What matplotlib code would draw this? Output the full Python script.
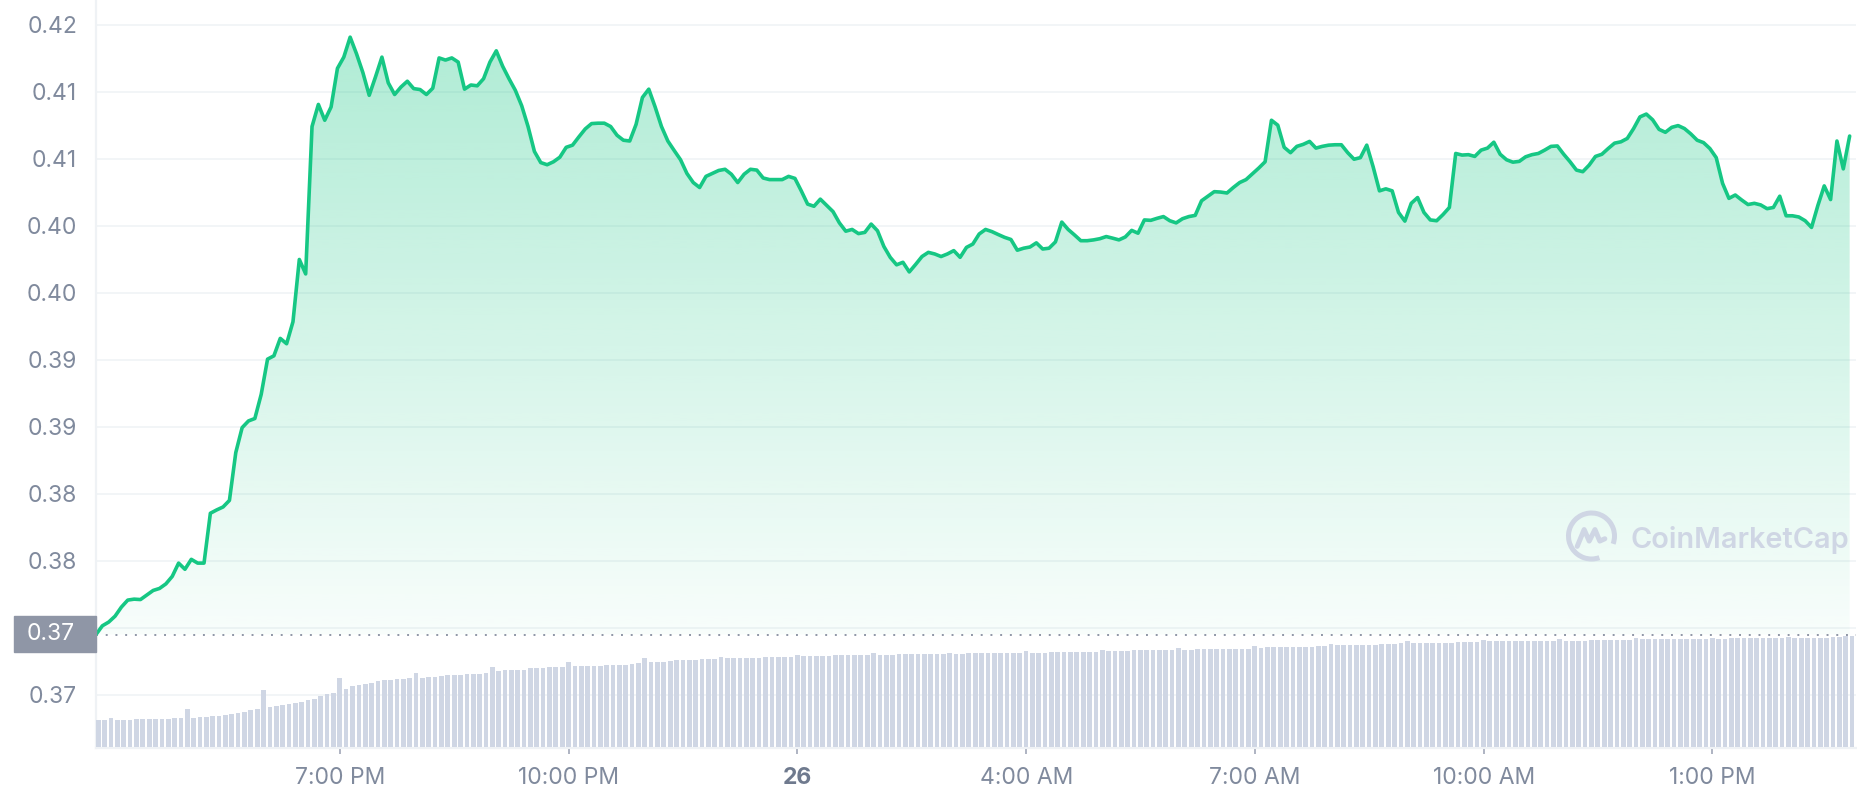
import numpy as np
import pandas as pd
import matplotlib
matplotlib.use("Agg")
import matplotlib.pyplot as plt
import matplotlib.dates as mdates
from matplotlib.patches import Rectangle, Arc, Polygon
from matplotlib.colors import to_rgb

plt.rcParams['font.family'] = ['Inter', 'DejaVu Sans']

# ---------------- data ----------------
start_time = "2024-01-25 15:48"
step = "5min"

price = [
    0.37449, 0.37514, 0.37542, 0.37586, 0.37654, 0.37706, 0.37713, 0.37710, 0.37744, 0.37778,
    0.37793, 0.37827, 0.37883, 0.37982, 0.37936, 0.38010, 0.37982, 0.37982, 0.38354, 0.38379,
    0.38401, 0.38450, 0.38807, 0.38993, 0.39043, 0.39061, 0.39241, 0.39504, 0.39529, 0.39659,
    0.39619, 0.39783, 0.40248, 0.40140, 0.41240, 0.41405, 0.41287, 0.41386, 0.41674, 0.41758,
    0.41907, 0.41783, 0.41643, 0.41473, 0.41612, 0.41758, 0.41566, 0.41479, 0.41535, 0.41578,
    0.41523, 0.41516, 0.41479, 0.41526, 0.41752, 0.41736, 0.41752, 0.41721, 0.41519, 0.41550,
    0.41544, 0.41597, 0.41721, 0.41805, 0.41690, 0.41597, 0.41510, 0.41395, 0.41240, 0.41054,
    0.40971, 0.40955, 0.40977, 0.41011, 0.41085, 0.41101, 0.41163, 0.41222, 0.41262, 0.41265,
    0.41265, 0.41240, 0.41175, 0.41138, 0.41132, 0.41256, 0.41457, 0.41519, 0.41386, 0.41240,
    0.41132, 0.41061, 0.40992, 0.40890, 0.40822, 0.40785, 0.40868, 0.40890, 0.40912, 0.40921,
    0.40884, 0.40822, 0.40884, 0.40921, 0.40915, 0.40856, 0.40844, 0.40844, 0.40844, 0.40868,
    0.40853, 0.40760, 0.40661, 0.40645, 0.40698, 0.40651, 0.40605, 0.40521, 0.40459, 0.40472,
    0.40441, 0.40450, 0.40512, 0.40462, 0.40345, 0.40264, 0.40208, 0.40227, 0.40155, 0.40211,
    0.40270, 0.40301, 0.40289, 0.40270, 0.40289, 0.40314, 0.40264, 0.40338, 0.40363, 0.40438,
    0.40472, 0.40456, 0.40434, 0.40413, 0.40397, 0.40317, 0.40332, 0.40341, 0.40372, 0.40326,
    0.40332, 0.40379, 0.40527, 0.40472, 0.40431, 0.40388, 0.40388, 0.40394, 0.40403, 0.40419,
    0.40407, 0.40394, 0.40416, 0.40465, 0.40444, 0.40543, 0.40540, 0.40555, 0.40568, 0.40537,
    0.40521, 0.40552, 0.40568, 0.40577, 0.40686, 0.40720, 0.40754, 0.40751, 0.40744, 0.40785,
    0.40822, 0.40844, 0.40887, 0.40930, 0.40977, 0.41287, 0.41250, 0.41085, 0.41045, 0.41092,
    0.41107, 0.41129, 0.41079, 0.41092, 0.41101, 0.41104, 0.41104, 0.41045, 0.40996, 0.41008,
    0.41101, 0.40940, 0.40760, 0.40775, 0.40760, 0.40599, 0.40534, 0.40667, 0.40710, 0.40599,
    0.40543, 0.40537, 0.40583, 0.40636, 0.41039, 0.41027, 0.41030, 0.41017, 0.41064, 0.41079,
    0.41123, 0.41033, 0.40992, 0.40974, 0.40980, 0.41014, 0.41030, 0.41039, 0.41064, 0.41092,
    0.41095, 0.41033, 0.40977, 0.40915, 0.40903, 0.40952, 0.41017, 0.41033, 0.41076, 0.41116,
    0.41126, 0.41151, 0.41225, 0.41312, 0.41333, 0.41290, 0.41219, 0.41197, 0.41234, 0.41247,
    0.41225, 0.41185, 0.41138, 0.41120, 0.41076, 0.41008, 0.40816, 0.40704, 0.40729, 0.40692,
    0.40658, 0.40667, 0.40655, 0.40627, 0.40636, 0.40720, 0.40574, 0.40574, 0.40565, 0.40537,
    0.40487, 0.40651, 0.40797, 0.40695, 0.41132, 0.40924, 0.41169,
]

volume = [
    26.7, 26.7, 28.7, 26.7, 26.7, 26.7, 27.7, 27.7, 27.7, 27.7,
    27.7, 27.7, 28.7, 28.7, 37.7, 28.7, 29.7, 29.7, 30.7, 30.7,
    31.7, 32.7, 33.7, 34.7, 36.7, 37.7, 56.7, 39.7, 40.7, 41.7,
    42.7, 43.7, 44.7, 46.7, 47.7, 50.7, 52.7, 53.7, 68.7, 57.7,
    60.7, 61.7, 62.7, 63.7, 65.7, 66.7, 66.7, 67.7, 67.7, 68.7,
    73.7, 68.7, 69.7, 69.7, 70.7, 71.7, 71.7, 71.7, 72.7, 72.7,
    72.7, 73.7, 79.4, 75.7, 76.7, 76.7, 76.7, 76.7, 78.7, 78.7,
    78.7, 79.4, 79.4, 79.4, 84.7, 80.7, 80.7, 80.7, 80.7, 80.7,
    81.7, 81.7, 81.7, 81.7, 82.7, 83.7, 88.4, 84.7, 84.7, 84.7,
    85.4, 86.4, 86.4, 86.4, 86.4, 87.7, 87.7, 87.7, 89.7, 88.7,
    88.7, 88.7, 88.7, 88.7, 88.7, 89.7, 89.7, 89.7, 89.7, 89.7,
    91.7, 90.7, 90.7, 90.7, 90.7, 90.7, 91.7, 91.7, 91.7, 91.7,
    91.7, 91.7, 93.7, 91.7, 91.7, 91.7, 92.7, 92.7, 92.7, 92.7,
    92.7, 92.7, 92.7, 92.7, 93.7, 92.7, 92.7, 93.7, 93.7, 93.7,
    93.7, 93.7, 93.7, 93.7, 93.7, 93.7, 95.2, 93.7, 93.7, 93.7,
    94.7, 94.7, 94.7, 94.7, 94.7, 94.7, 94.7, 94.7, 96.4, 95.7,
    95.7, 95.7, 95.7, 96.4, 96.4, 96.4, 96.4, 96.4, 96.4, 96.4,
    98.4, 96.4, 96.4, 97.4, 97.4, 97.4, 97.4, 97.4, 97.4, 97.4,
    97.4, 97.4, 100.4, 98.4, 99.4, 99.4, 99.4, 99.4, 99.4, 99.4,
    99.4, 99.4, 100.4, 100.4, 102.4, 101.4, 101.4, 101.4, 101.4, 101.4,
    101.4, 101.4, 102.4, 102.4, 102.4, 103.4, 105.4, 103.4, 103.4, 103.4,
    103.4, 103.4, 103.4, 103.4, 104.4, 104.4, 104.4, 104.4, 106.4, 105.4,
    105.4, 105.4, 105.4, 105.4, 105.4, 105.4, 105.4, 105.4, 105.4, 105.4,
    107.4, 105.4, 105.4, 105.4, 105.4, 106.4, 106.4, 106.4, 106.4, 106.4,
    106.4, 106.4, 108.4, 107.4, 107.4, 107.4, 107.4, 107.4, 107.4, 107.4,
    107.4, 107.4, 107.4, 107.4, 109.0, 107.4, 107.4, 108.4, 108.4, 108.4,
    108.4, 108.4, 108.4, 108.4, 108.4, 108.4, 109.4, 108.4, 108.4, 108.4,
    108.4, 108.4, 108.4, 109.7, 109.7, 111.0, 111.0,
]

y_ticks = [0.370, 0.375, 0.380, 0.385, 0.390, 0.395, 0.400, 0.405, 0.410, 0.415, 0.420]
# the 0.375 label sits under the current-price box, so it is left blank
y_tick_labels = ["0.37", "", "0.38", "0.38", "0.39", "0.39", "0.40", "0.40", "0.41", "0.41", "0.42"]
x_tick_times = ["2024-01-25 19:00", "2024-01-25 22:00", "2024-01-26 01:00", "2024-01-26 04:00",
                "2024-01-26 07:00", "2024-01-26 10:00", "2024-01-26 13:00"]
x_tick_labels = ["7:00 PM", "10:00 PM", "26", "4:00 AM", "7:00 AM", "10:00 AM", "1:00 PM"]
ref_label = "0.37"
watermark = "CoinMarketCap"

# ---------------- style ----------------
GREEN = "#16c784"
GRID = "#eff2f5"
LABEL = "#808a9d"
VOL = "#cfd6e4"
BOX = "#8f96a6"
FS = 16.5

W, H = 1858, 800
fig = plt.figure(figsize=(W / 100, H / 100), dpi=100)
fig.patch.set_facecolor("white")
rect = [96 / W, 52 / H, 1760 / W, 748 / H]
ax = fig.add_axes(rect)

xp = mdates.date2num(pd.date_range(start_time, periods=len(price), freq=step))
xv = mdates.date2num(pd.date_range(start_time, periods=len(volume), freq=step))
dt = xp[1] - xp[0]
x0, x1 = xp[0], xv[-1] + dt
ylo, yhi = 0.366022, 0.421843

for yt in y_ticks:
    ax.axhline(yt, color=GRID, lw=1.1, zorder=0)

base = price[0]
poly = Polygon(np.column_stack([np.r_[xp, xp[-1], xp[0]], np.r_[price, base, base]]),
               closed=True, facecolor="none", edgecolor="none")
ax.add_patch(poly)
grad = np.zeros((256, 1, 4))
grad[..., :3] = to_rgb(GREEN)
grad[:, 0, 3] = np.linspace(0.03, 0.36, 256)
im = ax.imshow(grad, extent=[x0, x1, base, yhi], origin="lower", aspect="auto",
               zorder=1, interpolation="bilinear")
im.set_clip_path(poly)

ax.plot(xp, price, color=GREEN, lw=2.6, zorder=4, solid_joinstyle="round", solid_capstyle="round")
ax.axhline(base, color=BOX, lw=1.4, ls=(0, (1, 4)), zorder=3)

ax.set_xlim(x0, x1)
ax.set_ylim(ylo, yhi)
for s in ["top", "right"]:
    ax.spines[s].set_visible(False)
for s in ["left", "bottom"]:
    ax.spines[s].set_color(GRID)
    ax.spines[s].set_linewidth(1.6)

ax.set_yticks(y_ticks)
ax.set_yticklabels(y_tick_labels)
ax.tick_params(axis="y", length=0, pad=13.5, labelsize=FS, labelcolor=LABEL)
ax.set_xticks(mdates.date2num(pd.to_datetime(x_tick_times)))
ax.set_xticklabels(x_tick_labels)
ax.tick_params(axis="x", length=4.5, width=1.2, color="#a1a7b7", pad=9, labelsize=FS, labelcolor=LABEL)
for lab in ax.get_xticklabels():
    if lab.get_text() == "26":
        lab.set_fontweight("bold")
        lab.set_color("#6f7a8e")

# volume bars
axv = fig.add_axes(rect, sharex=ax)
axv.patch.set_alpha(0)
axv.bar(xv, volume, width=dt * 0.74, align="edge", color=VOL, zorder=2)
axv.set_ylim(-1.5, 746.5)
axv.set_xlim(x0, x1)
axv.axis("off")

# overlay for current price box and watermark
ov = fig.add_axes([0, 0, 1, 1])
ov.set_xlim(0, W)
ov.set_ylim(H, 0)
ov.axis("off")
ov.patch.set_alpha(0)
ov.add_patch(Rectangle((14, 616), 82, 36, color=BOX, zorder=5))
ov.text(75, 634, ref_label, ha="right", va="center", color="white", fontsize=FS, zorder=6)

cx, cy, r = 1591.5, 536, 23
ov.add_patch(Arc((cx, cy), 2 * r, 2 * r, theta1=70, theta2=380, lw=3.6, color=VOL, zorder=4))
m = np.array([(-0.62, 0.45), (-0.32, -0.28), (-0.1, 0.22), (0.15, -0.28), (0.36, 0.22), (0.58, 0.12)])
ov.plot(cx + m[:, 0] * r, cy + m[:, 1] * r, color=VOL, lw=3.6, solid_joinstyle="round",
        solid_capstyle="round", zorder=4)
ov.text(1630.7, 548.3, watermark, ha="left", va="baseline", fontsize=20.8,
        fontweight="semibold", color=VOL, zorder=4)

fig.savefig("out.png", dpi=100)
